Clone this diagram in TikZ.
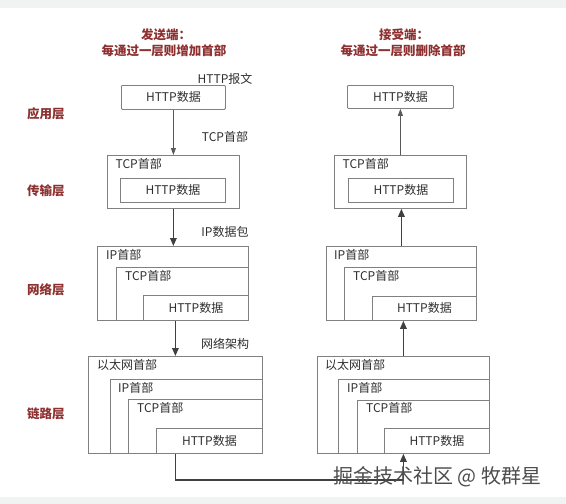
\documentclass[tikz,border=0pt]{standalone}
\usepackage{fontspec}
\setmainfont{Noto Sans CJK SC}
\usetikzlibrary{arrows.meta,calc}
\definecolor{title}{HTML}{8E3030}
\definecolor{txt}{HTML}{2E2E2E}
\definecolor{bord}{HTML}{808080}
\definecolor{band}{HTML}{F1F2F2}
\tikzset{
  x=1pt,y=-1pt,
  box/.style={draw=bord,line width=0.8pt,inner sep=0pt,anchor=north west},
  ttl/.style={text=title,font=\fontsize{12.5}{14}\selectfont\bfseries,inner sep=0pt},
  lay/.style={text=title,font=\fontsize{12.5}{14}\selectfont\bfseries,inner sep=0pt,anchor=west},
  lbl/.style={text=txt,font=\fontsize{12}{14}\selectfont,inner sep=0pt},
  hd/.style={lbl,anchor=west},
  thin/.style={draw=black!65,line width=0.8pt,-{Triangle[length=7pt,width=5pt]}},
  thick/.style={draw=black!75,line width=1.6pt,-{Triangle[length=8pt,width=6.5pt]}},
}
\newcommand{\bx}[5]{\node[box,minimum width=#4,minimum height=#5] (#1) at (#2,#3) {};}
\begin{document}
\begin{tikzpicture}
\useasboundingbox (0,0) rectangle (566,504);
\fill[band] (0,0) rectangle (566,8);
\fill[band] (0,497) rectangle (566,504);

% titles
\node[ttl] (t1a) at (166,35) {发送端：};
\node[ttl] (t1b) at (164,51) {每通过一层则增加首部};
\node[ttl] (t2a) at (404,35) {接受端：};
\node[ttl] (t2b) at (403,51) {每通过一层则删除首部};

% layer names
\node[lay] (l1) at (27,114) {应用层};
\node[lay] (l2) at (27,191) {传输层};
\node[lay] (l3) at (27,290) {网络层};
\node[lay] (l4) at (27,414) {链路层};

% ---------- left (sender) ----------
\node[box,rounded corners=1pt,minimum width=104,minimum height=24] (lapp) at (121,85) {};
\node[lbl] at (lapp.center) {HTTP数据};

\bx{ltcp}{107}{155}{132}{53}
\node[hd] at ($(ltcp.north west)+(8.5,9)$) {TCP首部};
\bx{ltcph}{120}{178}{105}{24}
\node[lbl] at (ltcph.center) {HTTP数据};

\bx{lip}{97}{246}{151}{74}
\node[hd] at ($(lip.north west)+(9,9)$) {IP首部};
\bx{liptcp}{116}{267}{132}{53}
\node[hd] at ($(liptcp.north west)+(9,9)$) {TCP首部};
\bx{liph}{143}{295}{105}{25}
\node[lbl] at (liph.center) {HTTP数据};

\bx{llink}{88}{356}{174}{97}
\node[hd] at ($(llink.north west)+(9,9)$) {以太网首部};
\bx{llip}{110}{379}{152}{74}
\node[hd] at ($(llip.north west)+(8,9)$) {IP首部};
\bx{lltcp}{128}{399}{134}{54}
\node[hd] at ($(lltcp.north west)+(9,9)$) {TCP首部};
\bx{llh}{156}{428}{106}{25}
\node[lbl] at (llh.center) {HTTP数据};

% connector labels
\node[lbl] (c1) at (225,79) {HTTP报文};
\node[lbl] (c2) at (225,137) {TCP首部};
\node[lbl] (c3) at (225,232) {IP数据包};
\node[lbl] (c4) at (225,344) {网络架构};

% ---------- right (receiver) ----------
\node[box,rounded corners=1pt,minimum width=106,minimum height=23] (rapp) at (347,85) {};
\node[lbl] at (rapp.center) {HTTP数据};

\bx{rtcp}{334}{155}{132}{53}
\node[hd] at ($(rtcp.north west)+(8.5,9)$) {TCP首部};
\bx{rtcph}{348}{178}{105}{24}
\node[lbl] at (rtcph.center) {HTTP数据};

\bx{rip}{326}{246}{150}{74}
\node[hd] at ($(rip.north west)+(8,9)$) {IP首部};
\bx{riptcp}{344}{267}{132}{53}
\node[hd] at ($(riptcp.north west)+(9,9)$) {TCP首部};
\bx{riph}{372}{296}{104}{24}
\node[lbl] at (riph.center) {HTTP数据};

\bx{rlink}{317}{356}{172}{97}
\node[hd] at ($(rlink.north west)+(8,9)$) {以太网首部};
\bx{rlip}{338}{379}{151}{74}
\node[hd] at ($(rlip.north west)+(9,9)$) {IP首部};
\bx{rltcp}{357}{400}{132}{53}
\node[hd] at ($(rltcp.north west)+(9,8)$) {TCP首部};
\bx{rlh}{384}{428}{105}{25}
\node[lbl] at (rlh.center) {HTTP数据};

% ---------- connectors ----------
\draw[thin] (ltcp.north |- lapp.south) -- (ltcp.north);
\draw[thick] (ltcp.south) -- (ltcp.south |- lip.north);
\draw[thick] (llink.north |- lip.south) -- (llink.north);
\draw[thick] (llink.south) -- ++(0,26) -| (rlink.south);
\draw[thick] (rlink.north) -- (rlink.north |- rip.south);
\draw[thick] (rip.north) -- (rip.north |- rtcp.south);
\draw[thin] (rtcp.north) -- (rtcp.north |- rapp.south);

% watermark
\node[text=black!70,font=\fontsize{20}{22}\selectfont,inner sep=0pt,anchor=west] (wm) at (333,477) {掘金技术社区 @ 牧群星};
\end{tikzpicture}
\end{document}
